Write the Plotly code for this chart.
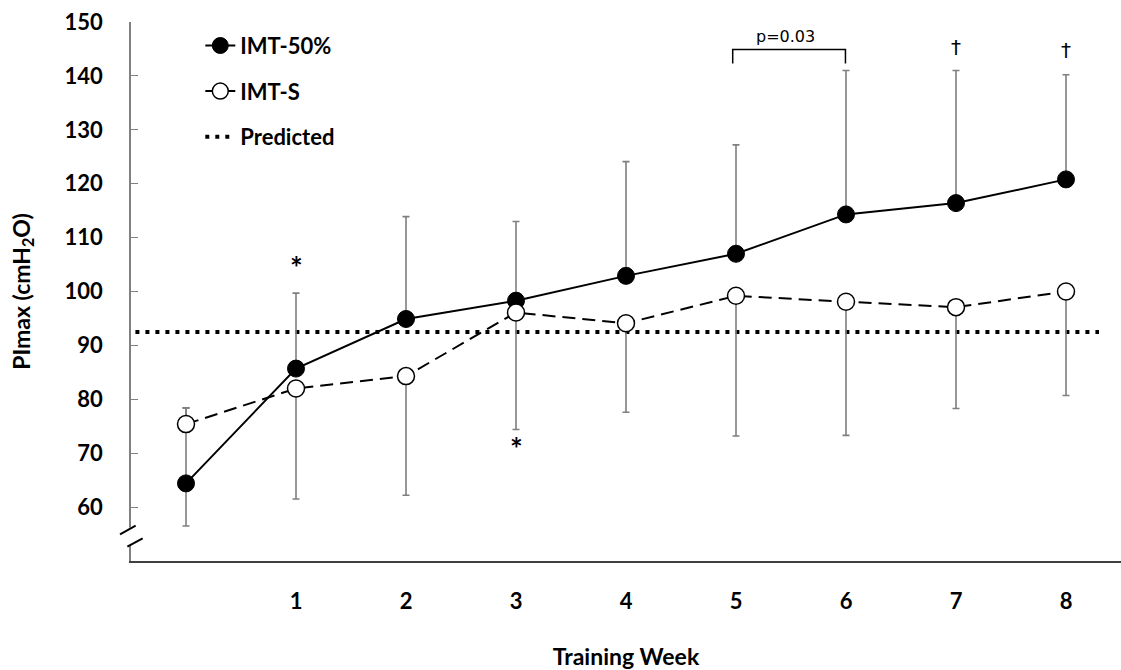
import plotly.graph_objects as go

weeks = [0, 1, 2, 3, 4, 5, 6, 7, 8]
week_labels = ["1", "2", "3", "4", "5", "6", "7", "8"]
week_ticks = [1, 2, 3, 4, 5, 6, 7, 8]

imt50 = [64.4, 85.7, 94.9, 98.3, 102.9, 107.0, 114.3, 116.4, 120.8]
imt50_up = [78.4, 99.7, 113.9, 113.0, 124.1, 127.2, 141.0, 141.0, 140.2]
imt50_low = [56.5, 85.7, 94.9, 98.3, 102.9, 107.0, 114.3, 116.4, 120.8]

imts = [75.4, 82.0, 84.3, 96.1, 94.1, 99.2, 98.1, 97.1, 100.0]
imts_up = [78.4, 82.0, 84.3, 96.1, 94.1, 99.2, 98.1, 97.1, 100.0]
imts_low = [75.4, 61.5, 62.2, 74.4, 77.6, 73.2, 73.3, 78.3, 80.7]

predicted_x = [-0.46, 8.3]
predicted_val = 92.5

yticks = [60, 70, 80, 90, 100, 110, 120, 130, 140, 150]

FONT = "Lato"
ERR_COLOR = "#7f7f7f"

fig = go.Figure()

fig.add_trace(go.Scatter(
    x=predicted_x, y=[predicted_val] * len(predicted_x), mode="lines",
    name="Predicted", line=dict(color="black", width=4, dash="4px,6px"),
    legendgroup="c", legendrank=3, hoverinfo="skip"))

fig.add_trace(go.Scatter(
    x=weeks, y=imt50, mode="lines+markers", name="IMT-50%",
    line=dict(color="black", width=2),
    marker=dict(size=17, color="black", line=dict(color="black", width=1)),
    error_y=dict(type="data", symmetric=False,
                 array=[u - m for u, m in zip(imt50_up, imt50)],
                 arrayminus=[m - l for m, l in zip(imt50, imt50_low)],
                 color=ERR_COLOR, thickness=1.6, width=3.5),
    legendgroup="a", legendrank=1))

fig.add_trace(go.Scatter(
    x=weeks, y=imts, mode="lines+markers", name="IMT-S",
    line=dict(color="black", width=2, dash="13px,7px"),
    marker=dict(size=17, color="white", line=dict(color="black", width=1.5)),
    error_y=dict(type="data", symmetric=False,
                 array=[u - m for u, m in zip(imts_up, imts)],
                 arrayminus=[m - l for m, l in zip(imts, imts_low)],
                 color=ERR_COLOR, thickness=1.6, width=3.5),
    legendgroup="b", legendrank=2))

# significance markers
anno = [
    dict(x=1, y=104.6, text="<b>*</b>", size=30, family=FONT),
    dict(x=3, y=71.0, text="<b>*</b>", size=30, family=FONT),
    dict(x=7, y=145.4, text="†", size=20, family="DejaVu Sans"),
    dict(x=8, y=144.8, text="†", size=20, family="DejaVu Sans"),
    dict(x=5.45, y=147.4, text="p=0.03", size=16, family="DejaVu Sans"),
]
for a in anno:
    fig.add_annotation(x=a["x"], y=a["y"], text=a["text"], showarrow=False,
                       font=dict(size=a["size"], family=a["family"], color="black"))

# p-value bracket
fig.add_shape(type="path", path="M 4.97,142.3 L 4.97,144.9 L 5.995,144.9 L 5.995,142.3",
              line=dict(color="black", width=1.5))

# axis break marks
fig.add_shape(type="rect", xref="paper", yref="y", x0=-0.004, x1=0.004, y0=53.0, y1=56.2,
              fillcolor="white", line=dict(width=0), layer="above")
fig.add_shape(type="line", xref="paper", yref="y", x0=-0.0111, y0=54.95, x1=0.0047, y1=56.55,
              line=dict(color="black", width=2))
fig.add_shape(type="line", xref="paper", yref="y", x0=-0.0037, y0=52.65, x1=0.0118, y1=54.21,
              line=dict(color="black", width=2))

fig.update_layout(
    width=1121, height=670,
    margin=dict(l=131, r=0, t=22, b=109),
    plot_bgcolor="white", paper_bgcolor="white",
    font=dict(family=FONT, color="black"),
    showlegend=True,
    legend=dict(x=0.07, y=0.995, xanchor="left", yanchor="top",
                font=dict(size=22, family=FONT, weight="bold"),
                bgcolor="rgba(0,0,0,0)", tracegroupgap=14,
                traceorder="grouped"),
    xaxis=dict(range=[-0.5, 8.5], tickvals=week_ticks, ticktext=week_labels,
               showgrid=False, zeroline=False, showline=True, linecolor="#404040",
               linewidth=2, ticks="", ticklabelstandoff=20, automargin=False,
               tickfont=dict(size=22, family=FONT, weight="bold"),
               title=dict(text="<b>Training Week</b>", standoff=36,
                          font=dict(size=23, family=FONT))),
    yaxis=dict(range=[50, 150], tickvals=yticks, automargin=False,
               showgrid=False, zeroline=False, showline=True, linecolor="#808080",
               linewidth=1.5, ticks="inside", ticklen=7, tickcolor="#808080",
               ticklabelstandoff=22,
               tickfont=dict(size=22, family=FONT, weight="bold"),
               title=dict(text="<b>PImax (cmH<sub>2</sub>O)</b>", standoff=28,
                          font=dict(size=23, family=FONT))),
)

fig.write_html("out.html", config={"displayModeBar": False},
               post_script="document.body.style.margin='0px';document.body.style.overflow='hidden';")
